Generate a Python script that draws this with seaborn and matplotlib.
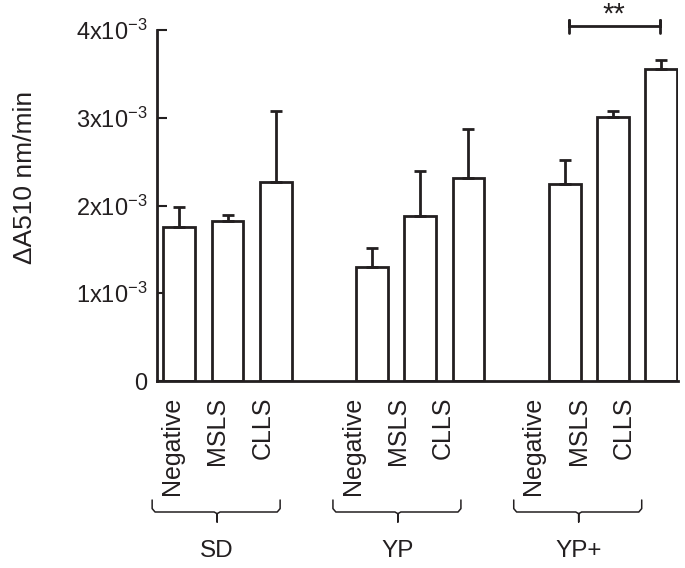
import numpy as np
import pandas as pd
import seaborn as sns
import matplotlib.pyplot as plt
import matplotlib.transforms as mtransforms

groups = ["SD", "YP", "YP+"]
samples = ["Negative", "MSLS", "CLLS"]
# mean activity (x1e-3) and top of the error bar (x1e-3)
means = [1.76, 1.82, 2.27, 1.30, 1.88, 2.31, 2.25, 3.01, 3.56]
err_top = [1.98, 1.89, 3.08, 1.51, 2.39, 2.87, 2.52, 3.08, 3.66]
yticks = [0, 1, 2, 3, 4]
ytick_labels = ["0", "1x10$^{-3}$", "2x10$^{-3}$", "3x10$^{-3}$", "4x10$^{-3}$"]
sig_label = "**"

sns.set_style("ticks")
plt.rcParams["font.family"] = ["Liberation Sans", "DejaVu Sans"]
plt.rcParams["mathtext.fontset"] = "custom"
plt.rcParams["mathtext.rm"] = "Liberation Sans"
plt.rcParams["mathtext.it"] = "Liberation Sans:italic"
ink = "#231f20"

pos = [g * 4 + s for g in range(len(groups)) for s in range(len(samples))]
df = pd.DataFrame({
    "group": np.repeat(groups, len(samples)),
    "sample": samples * len(groups),
    "pos": pos,
    "mean": np.array(means) * 1e-3,
    "top": np.array(err_top) * 1e-3,
})

fig = plt.figure(figsize=(6.85, 5.68), dpi=100)
ax = fig.add_axes([157 / 685, 187 / 568, 521 / 685, 351 / 568])

sns.barplot(data=df, x="pos", y="mean", native_scale=True, width=0.66,
            color="white", saturation=1, edgecolor=ink, linewidth=2,
            errorbar=None, ax=ax)
ax.errorbar(df["pos"], df["mean"], yerr=[np.zeros(len(df)), df["top"] - df["mean"]],
            fmt="none", ecolor=ink, elinewidth=2, capsize=4.3, capthick=2)

ax.set_xlim(-0.464, 10.35)
ax.set_ylim(0, 4e-3)
ax.set_yticks(np.array(yticks) * 1e-3)
ax.set_yticklabels(ytick_labels)
ax.tick_params(axis="y", direction="in", length=7, width=1.5, pad=7,
               labelsize=17, colors=ink)

# rotated sample labels sit on a slightly compressed spacing
lab_pos = (172 + 45.5 * df["pos"] - 179.5) / 48.5
ax.set_xticks(lab_pos)
ax.set_xticklabels(df["sample"], rotation=90, va="top")
ax.tick_params(axis="x", length=0, pad=11.5, labelsize=18, colors=ink)
ax.set_xlabel("")
ax.set_ylabel("")

sns.despine(ax=ax)
for sp in ["left", "bottom"]:
    ax.spines[sp].set_linewidth(2)
    ax.spines[sp].set_color(ink)

fig.text(32 / 685, (568 - 177) / 568, "\u0394A510 nm/min", rotation=90,
         rotation_mode="anchor", ha="center", va="baseline", fontsize=19, color=ink)

# braces and group names
tr = mtransforms.blended_transform_factory(ax.transData, fig.transFigure)
y_hook, y_line, y_tip = (568 - 500) / 568, (568 - 512) / 568, (568 - 522) / 568
for g, name in enumerate(groups):
    p = lab_pos[g * 3:(g + 1) * 3].to_numpy()
    x0, xc, x1 = p[0] - 0.41, p[1], p[2] + 0.37
    d = 0.06
    ax.plot([x0, x0, x0 + d, xc - d, xc, xc, xc, xc + d, x1 - d, x1, x1],
            [y_hook, y_line + 0.006, y_line, y_line, y_line - 0.003, y_tip,
             y_line - 0.003, y_line, y_line, y_line + 0.006, y_hook],
            transform=tr, clip_on=False, color=ink, lw=1.1)
    ax.text(xc, (568 - 551) / 568, name, transform=tr, ha="center", va="center",
            fontsize=17.5, color=ink)

# significance bracket between YP+ Negative and CLLS
i0, i1 = 6, 8
bx0, bx1 = df["pos"][i0] + 0.08, df["pos"][i1] - 0.03
by, bh = 4.04e-3, 0.07e-3
ax.plot([bx0, bx0, bx0, bx1, bx1, bx1], [by - bh, by + bh, by, by, by + bh, by - bh],
        color=ink, lw=2, clip_on=False)
ax.text((bx0 + bx1) / 2, 4.09e-3, sig_label, ha="center", va="baseline",
        fontsize=21, color=ink, clip_on=False)

fig.savefig("out.png", dpi=100)
